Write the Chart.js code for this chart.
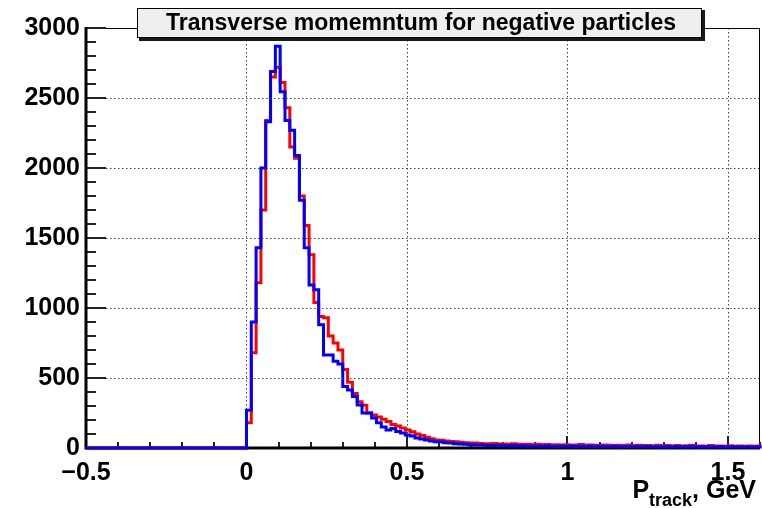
<!DOCTYPE html>
<html>
<head>
<meta charset="utf-8">
<script src="https://cdn.jsdelivr.net/npm/chart.js@4.4.1/dist/chart.umd.min.js"></script>
<style>
  html, body { margin: 0; padding: 0; background: #fff; }
</style>
</head>
<body>
<canvas id="grafica" width="762" height="508"></canvas>
<script>
const titulo = "Transverse momemntum for negative particles";

// histogram binning (GeV)
const binInicio = 0;
const binAncho = 0.015;

const xTicks = [-0.5, 0, 0.5, 1, 1.5];
const xTickLabels = ["\u22120.5", "0", "0.5", "1", "1.5"];
const yTicks = [0, 500, 1000, 1500, 2000, 2500, 3000];

// counts per bin, red histogram
const cuentasRojo = [
  180, 680, 1180, 1700, 2340, 2650, 2720, 2610, 2430, 2150,
  2070, 1800, 1590, 1380, 1040, 940, 930, 800, 750, 700,
  560, 470, 390, 330, 305, 250, 235, 222, 205, 190,
  168, 158, 143, 128, 116, 100, 90, 76, 66, 58,
  55, 50, 46, 44, 41, 38, 36, 35, 33, 31,
  30, 32, 28, 29, 27, 30, 26, 25, 27, 24,
  26, 23, 25, 22, 24, 21, 23, 20, 22, 25,
  19, 21, 20, 18, 22, 19, 17, 20, 18, 21,
  16, 19, 17, 18, 15, 20, 16, 17, 14, 18,
  15, 16, 19, 14, 15, 13, 17, 14, 15, 12,
  16, 13, 14, 12, 15, 13, 14
];

// counts per bin, blue histogram
const cuentasAzul = [
  270, 900, 1430, 2000, 2330, 2690, 2870, 2545, 2340, 2270,
  2090, 1770, 1430, 1165, 1130, 880, 665, 665, 620, 600,
  440, 415, 367, 307, 250, 250, 214, 180, 150, 128,
  140, 118, 108, 93, 85, 72, 64, 57, 50, 45,
  42, 38, 35, 31, 29, 26, 23, 21, 22, 19,
  18, 17, 19, 16, 15, 17, 14, 16, 13, 15,
  14, 12, 14, 13, 11, 13, 12, 14, 11, 12,
  10, 13, 11, 12, 10, 11, 12, 9, 11, 10,
  12, 9, 10, 11, 9, 10, 8, 11, 9, 10,
  8, 9, 10, 8, 9, 7, 9, 8, 9, 7,
  8, 9, 7, 8, 7, 8, 7
];

function puntos(cuentas) {
  const p = [{ x: -0.5, y: 0 }];
  cuentas.forEach((c, i) => p.push({ x: binInicio + i * binAncho, y: c }));
  p.push({ x: binInicio + cuentas.length * binAncho, y: cuentas[cuentas.length - 1] });
  return p;
}

const fuente = "'Liberation Sans', Arial, Helvetica, sans-serif";

// grid, ticks and frame drawn ROOT-like (ticks pointing inside)
const marco = {
  id: "marco",
  beforeDatasetsDraw(chart) {
    const { ctx, chartArea: a, scales: { x, y } } = chart;
    ctx.save();

    ctx.strokeStyle = "#444";
    ctx.lineWidth = 1;
    ctx.setLineDash([1.5, 2.5]);
    xTicks.forEach(v => {
      const px = Math.round(x.getPixelForValue(v)) + 0.5;
      ctx.beginPath(); ctx.moveTo(px, a.top); ctx.lineTo(px, a.bottom); ctx.stroke();
    });
    yTicks.forEach(v => {
      const py = Math.round(y.getPixelForValue(v)) + 0.5;
      ctx.beginPath(); ctx.moveTo(a.left, py); ctx.lineTo(a.right, py); ctx.stroke();
    });
    ctx.setLineDash([]);

    // frame
    ctx.strokeStyle = "#000";
    ctx.lineWidth = 1;
    ctx.beginPath();
    ctx.moveTo(a.left, a.top + 0.5); ctx.lineTo(a.right - 0.5, a.top + 0.5);
    ctx.lineTo(a.right - 0.5, a.bottom);
    ctx.stroke();

    // tick marks
    ctx.strokeStyle = "#222";
    ctx.lineWidth = 2;
    for (let v = 0; v <= 3000; v += 100) {
      const py = Math.round(y.getPixelForValue(v));
      const largo = v % 500 === 0 ? 20 : 10;
      ctx.beginPath(); ctx.moveTo(a.left, py); ctx.lineTo(a.left + largo, py); ctx.stroke();
    }
    for (let k = -5; k <= 16; k++) {
      const px = Math.round(x.getPixelForValue(k / 10));
      const largo = k % 5 === 0 ? 12 : 6;
      ctx.beginPath(); ctx.moveTo(px, a.bottom); ctx.lineTo(px, a.bottom - largo); ctx.stroke();
    }

    // axes
    ctx.strokeStyle = "#000";
    ctx.lineWidth = 3;
    ctx.beginPath();
    ctx.moveTo(a.left, a.top - 1); ctx.lineTo(a.left, a.bottom); ctx.lineTo(a.right, a.bottom);
    ctx.stroke();
    ctx.restore();
  },
  afterDraw(chart) {
    const { ctx } = chart;
    ctx.save();

    // title box with shadow
    ctx.fillStyle = "#1a1a1a";
    ctx.fillRect(139, 10, 566, 31);
    ctx.fillStyle = "#efefef";
    ctx.fillRect(137, 8, 565, 30);
    ctx.strokeStyle = "#000";
    ctx.lineWidth = 1;
    ctx.strokeRect(137.5, 8.5, 564, 29);
    ctx.fillStyle = "#000";
    ctx.font = "bold 23px " + fuente;
    ctx.textAlign = "center";
    ctx.textBaseline = "alphabetic";
    ctx.fillText(titulo, 421, 30);

    // x axis title: P_track, GeV
    const grande = "bold 25px " + fuente;
    const chico = "bold 18px " + fuente;
    const base = 498;
    ctx.textAlign = "left";
    ctx.font = grande; const wP = ctx.measureText("P").width;
    const wG = ctx.measureText(", GeV").width;
    ctx.font = chico; const wT = ctx.measureText("track").width;
    let xx = 756 - (wP + wT + wG);
    ctx.font = grande; ctx.fillText("P", xx, base); xx += wP;
    ctx.font = chico; ctx.fillText("track", xx, base + 8); xx += wT;
    ctx.font = grande; ctx.fillText(", GeV", xx, base);
    ctx.restore();
  }
};

const ctx = document.getElementById("grafica").getContext("2d");
new Chart(ctx, {
  type: "line",
  data: {
    datasets: [
      {
        label: "azul",
        data: puntos(cuentasAzul),
        borderColor: "#0000ff",
        borderWidth: 3,
        stepped: "before",
        pointRadius: 0,
        fill: false,
        clip: 6
      },
      {
        label: "rojo",
        data: puntos(cuentasRojo),
        borderColor: "#ff0000",
        borderWidth: 3,
        stepped: "before",
        pointRadius: 0,
        fill: false,
        clip: 6
      }
    ]
  },
  options: {
    responsive: false,
    animation: false,
    devicePixelRatio: 1,
    layout: { padding: { top: 28, right: 2, left: 0, bottom: 0 } },
    plugins: {
      legend: { display: false },
      tooltip: { enabled: false },
      title: { display: false }
    },
    scales: {
      x: {
        type: "linear",
        min: -0.5,
        max: 1.6,
        afterBuildTicks: s => { s.ticks = xTicks.map(v => ({ value: v })); },
        afterFit: s => { s.height = 60; },
        grid: { display: false, drawTicks: false },
        border: { display: false },
        ticks: {
          color: "#000",
          padding: 10,
          maxRotation: 0,
          autoSkip: false,
          font: { family: fuente, size: 25, weight: "bold" },
          callback: (v) => xTickLabels[xTicks.indexOf(v)] ?? ""
        }
      },
      y: {
        min: 0,
        max: 3000,
        afterBuildTicks: s => { s.ticks = yTicks.map(v => ({ value: v })); },
        afterFit: s => { s.width = 86; },
        grid: { display: false, drawTicks: false },
        border: { display: false },
        ticks: {
          color: "#000",
          padding: 6,
          font: { family: fuente, size: 25, weight: "bold" },
          callback: (v) => String(v)
        }
      }
    }
  },
  plugins: [marco]
});
</script>
</body>
</html>
